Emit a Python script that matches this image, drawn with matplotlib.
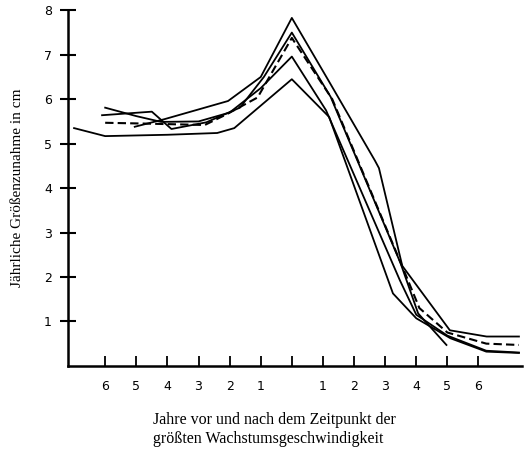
import numpy as np
import matplotlib
matplotlib.use("Agg")
import matplotlib.pyplot as plt

# years relative to peak height velocity, growth in cm per year
x_a = [-7, -6, -4, -2.4, -1.85, 0, 1.2, 3.25, 4.0, 5.1, 6.25, 7.3]
y_a = [5.35, 5.17, 5.2, 5.24, 5.35, 6.45, 5.6, 1.63, 1.07, 0.62, 0.32, 0.29]

x_b = [-5.05, -4.1, -2.05, -1.0, 0, 1.22, 2.67, 2.8, 3.55, 5.08, 6.26, 7.3]
y_b = [5.38, 5.55, 5.96, 6.5, 7.83, 6.37, 4.62, 4.45, 2.25, 0.8, 0.66, 0.66]

x_c = [-6.1, -4.5, -3.87, -2.75, -1.67, -0.9, 0, 1.25, 3.5, 4.06, 4.97]
y_c = [5.64, 5.72, 5.33, 5.48, 5.81, 6.5, 7.5, 6.05, 2.3, 1.18, 0.47]

x_d = [-6.0, -5.0, -4.2, -3.0, -2.0, -1.0, 0, 1.1, 3.47, 4.0, 5.0, 6.25, 7.3]
y_d = [5.81, 5.62, 5.49, 5.5, 5.7, 6.25, 6.96, 5.75, 1.93, 1.15, 0.68, 0.34, 0.3]

x_mean = [-6.0, -4.6, -2.8, -2.1, -1.1, 0, 1.3, 3.6, 4.1, 5.0, 6.25, 7.3]
y_mean = [5.47, 5.45, 5.42, 5.66, 6.04, 7.38, 6.0, 2.15, 1.3, 0.75, 0.5, 0.47]

xticks = [-6, -5, -4, -3, -2, -1, 0, 1, 2, 3, 4, 5, 6]
xticklabels = ["6", "5", "4", "3", "2", "1", "", "1", "2", "3", "4", "5", "6"]
yticks = [1, 2, 3, 4, 5, 6, 7, 8]

fig = plt.figure(figsize=(5.3, 4.5), dpi=100)
ax = fig.add_axes([0.128, 0.187, 0.857, 0.79])

for xs, ys in [(x_a, y_a), (x_b, y_b), (x_c, y_c), (x_d, y_d)]:
    ax.plot(xs, ys, color="black", linewidth=1.3)
ax.plot(x_mean, y_mean, color="black", linewidth=1.5, linestyle=(0, (4, 2)))

ax.set_xlim(-7.2, 7.4)
ax.set_ylim(0, 8)
ax.spines["top"].set_visible(False)
ax.spines["right"].set_visible(False)
ax.spines["left"].set_linewidth(1.8)
ax.spines["bottom"].set_linewidth(1.8)

ax.set_yticks(yticks)
ax.set_yticklabels([str(v) for v in yticks], fontsize=9)
ax.tick_params(axis="y", direction="inout", length=11, width=1.5, pad=6)
ax.set_xticks(xticks)
ax.set_xticklabels(xticklabels, fontsize=9)
ax.tick_params(axis="x", direction="in", length=7, width=1.3, pad=10)

ax.set_ylabel("Jährliche Größenzunahme in cm", fontsize=11,
              family="Liberation Serif", labelpad=14)
ax.set_xlabel("Jahre vor und nach dem Zeitpunkt der\ngrößten Wachstumsgeschwindigkeit",
              fontsize=11.5, family="Liberation Serif", labelpad=14,
              ha="left", x=0.187, multialignment="left")

plt.savefig("out.png", dpi=100)
